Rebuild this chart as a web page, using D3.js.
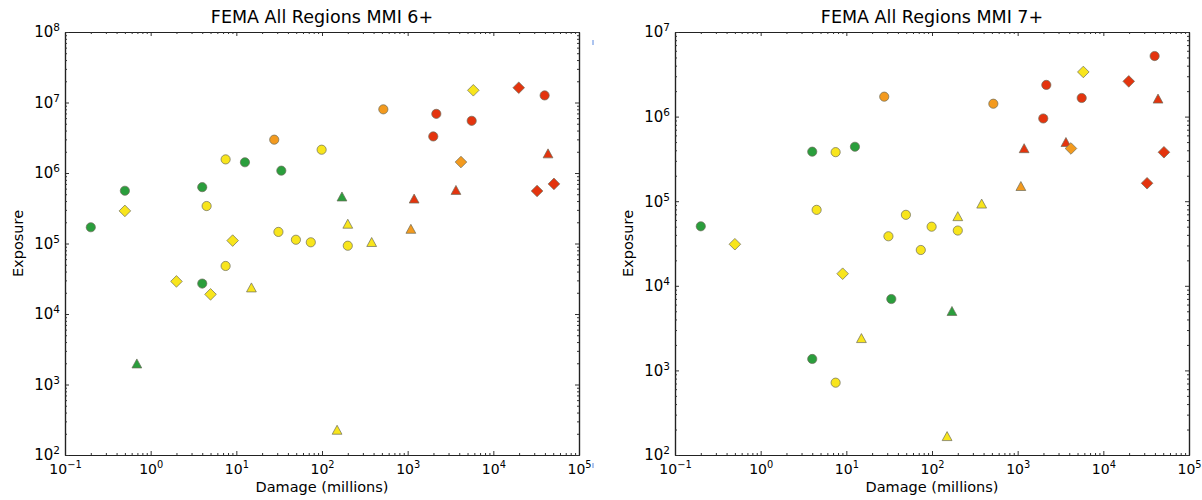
<!DOCTYPE html>
<html>
<head>
<meta charset="utf-8">
<script src="https://cdn.jsdelivr.net/npm/d3@7"></script>
<style>
  body { margin: 0; background: #fff; }
  svg text { font-family: "DejaVu Sans", sans-serif; fill: #000; }
</style>
</head>
<body>
<div id="chart"></div>
<script>
// events: one entry per loss event, same order in every array
var damage = [0.2, 0.5, 4.0, 12.6, 33.5, 4.0, 0.69, 171,
  7.5, 7.5, 99, 4.5, 31, 49.6, 74, 200,
  0.5, 9.06, 2.0, 5.0, 5840,
  15, 200, 380, 150,
  27.7, 520, 4190, 1090,
  2160, 5590, 1990, 39700,
  19800, 51000, 32400,
  43500, 3660, 1190];
var colorClass = ["green", "green", "green", "green", "green", "green", "green", "green",
  "yellow", "yellow", "yellow", "yellow", "yellow", "yellow", "yellow", "yellow",
  "yellow", "yellow", "yellow", "yellow", "yellow",
  "yellow", "yellow", "yellow", "yellow",
  "orange", "orange", "orange", "orange",
  "red", "red", "red", "red",
  "red", "red", "red",
  "red", "red", "red"];
var shape = ["o", "o", "o", "o", "o", "o", "^", "^",
  "o", "o", "o", "o", "o", "o", "o", "o",
  "D", "D", "D", "D", "D",
  "^", "^", "^", "^",
  "o", "o", "D", "^",
  "o", "o", "o", "o",
  "D", "D", "D",
  "^", "^", "^"];
// exposure at MMI 6+ and MMI 7+ (null = not plotted)
var exposure6 = [1.7e5, 5.6e5, 6.3e5, 1.42e6, 1.08e6, 2.7e4, 1970, 4.6e5,
  1.56e6, 4.8e4, 2.14e6, 3.4e5, 1.46e5, 1.13e5, 1.04e5, 9.3e4,
  2.9e5, 1.1e5, 2.9e4, 1.9e4, 1.49e7,
  2.36e4, 1.89e5, 1.04e5, 226,
  2.97e6, 8.0e6, 1.43e6, 1.6e5,
  6.9e6, 5.5e6, 3.3e6, 1.26e7,
  1.62e7, 7.0e5, 5.56e5,
  1.88e6, 5.7e5, 4.3e5];
var exposure7 = [5.05e4, null, 3.85e5, 4.4e5, 6980, 1365, null, 5000,
  3.8e5, 716, 5.0e4, 7.9e4, 3.85e4, 6.9e4, 2.65e4, 4.5e4,
  3.1e4, 1.39e4, null, null, 3.37e6,
  2390, 6.6e4, 9.3e4, 166,
  1.72e6, 1.42e6, 4.2e5, 1.5e5,
  2.37e6, 1.66e6, 9.5e5, 5.2e6,
  2.61e6, 3.79e5, 1.63e5,
  1.62e6, 4.97e5, 4.2e5];

var titles = ["FEMA All Regions MMI 6+", "FEMA All Regions MMI 7+"];
var xDomain = [0.1, 1e5];
var yDomains = [[100, 1e8], [100, 1e7]];

var colors = { green: "#2a9e3c", yellow: "#f8e51c", orange: "#f39a1e", red: "#e4340e" };

var svgWidth = 1202, svgHeight = 500;
var panels = [
  { left: 65, top: 32, width: 514, height: 423, y: exposure6 },
  { left: 675, top: 32, width: 514, height: 423, y: exposure7 }
];

var svg = d3.select("#chart").append("svg")
  .attr("width", svgWidth)
  .attr("height", svgHeight);

function markerPath(s) {
  if (s == "o") return d3.symbol().type(d3.symbolCircle).size(Math.PI * 4.6 * 4.6)();
  if (s == "D") return "M0,-5.8L5.8,0L0,5.8L-5.8,0Z";
  return "M0,-4.8L4.9,4.2L-4.9,4.2Z";
}

// superscript tick labels like 10^-1
function powLabel(sel, size) {
  sel.each(function(d) {
    var t = d3.select(this).text("").attr("font-size", size);
    var e = Math.round(Math.log10(d));
    t.append("tspan").text("10");
    t.append("tspan").attr("dy", -6).attr("font-size", size * 0.7).text(String(e).replace("-", "\u2212"));
  });
}

function minorTicks(domain) {
  var out = [];
  var lo = Math.round(Math.log10(domain[0])), hi = Math.round(Math.log10(domain[1]));
  for (var p = lo; p < hi; p++) {
    for (var m = 2; m <= 9; m++) out.push(m * Math.pow(10, p));
  }
  return out;
}
function majorTicks(domain) {
  var out = [];
  var lo = Math.round(Math.log10(domain[0])), hi = Math.round(Math.log10(domain[1]));
  for (var p = lo; p <= hi; p++) out.push(Math.pow(10, p));
  return out;
}

panels.forEach(function(p, i) {
  var g = svg.append("g").attr("transform", `translate(${p.left}, ${p.top})`);

  var xscale = d3.scaleLog().domain(xDomain).range([0, p.width]);
  var yscale = d3.scaleLog().domain(yDomains[i]).range([p.height, 0]);

  var xMaj = majorTicks(xDomain), xMin = minorTicks(xDomain);
  var yMaj = majorTicks(yDomains[i]), yMin = minorTicks(yDomains[i]);

  // bottom axis with labels
  var bottom = g.append("g").attr("transform", `translate(0, ${p.height})`)
    .call(d3.axisBottom(xscale).tickValues(xMaj).tickSize(-4).tickSizeOuter(0).tickPadding(9));
  bottom.selectAll("text").call(powLabel, 14);
  g.append("g").attr("transform", `translate(0, ${p.height})`)
    .call(d3.axisBottom(xscale).tickValues(xMin).tickSize(-2).tickSizeOuter(0).tickFormat(""));

  // top axis, ticks only
  g.append("g").call(d3.axisTop(xscale).tickValues(xMaj).tickSize(-4).tickSizeOuter(0).tickFormat(""));
  g.append("g").call(d3.axisTop(xscale).tickValues(xMin).tickSize(-2).tickSizeOuter(0).tickFormat(""));

  // left axis with labels
  var left = g.append("g")
    .call(d3.axisLeft(yscale).tickValues(yMaj).tickSize(-4).tickSizeOuter(0).tickPadding(5));
  left.selectAll("text").call(powLabel, 15);
  g.append("g").call(d3.axisLeft(yscale).tickValues(yMin).tickSize(-2).tickSizeOuter(0).tickFormat(""));

  // right axis, ticks only
  g.append("g").attr("transform", `translate(${p.width}, 0)`)
    .call(d3.axisRight(yscale).tickValues(yMaj).tickSize(-4).tickSizeOuter(0).tickFormat(""));
  g.append("g").attr("transform", `translate(${p.width}, 0)`)
    .call(d3.axisRight(yscale).tickValues(yMin).tickSize(-2).tickSizeOuter(0).tickFormat(""));

  g.selectAll(".domain").attr("stroke", "#222").attr("stroke-width", 1.2);
  g.selectAll(".tick line").attr("stroke", "#333");

  // points (triangles first, diamonds on top)
  var order = { "^": 0, "o": 1, "D": 2 };
  var pts = damage.map(function(d, k) {
    return { x: d, y: p.y[k], c: colorClass[k], s: shape[k] };
  }).filter(function(d) { return d.y != null; })
    .sort(function(a, b) { return order[a.s] - order[b.s]; });

  g.append("g").selectAll("path")
    .data(pts)
    .enter()
    .append("path")
    .attr("d", d => markerPath(d.s))
    .attr("transform", d => `translate(${xscale(d.x)}, ${yscale(d.y)})`)
    .attr("fill", d => colors[d.c])
    .attr("stroke", "#6b6b5a")
    .attr("stroke-width", 0.7);

  // titles and axis labels
  g.append("text")
    .attr("x", p.width / 2)
    .attr("y", -9)
    .attr("text-anchor", "middle")
    .attr("font-size", 17.5)
    .text(titles[i]);

  g.append("text")
    .attr("x", p.width / 2)
    .attr("y", p.height + 37)
    .attr("text-anchor", "middle")
    .attr("font-size", 14.5)
    .text("Damage (millions)");

  g.append("text")
    .attr("transform", "rotate(-90)")
    .attr("x", -p.height / 2)
    .attr("y", -42)
    .attr("text-anchor", "middle")
    .attr("font-size", 14.5)
    .text("Exposure");
});

// small blue marks right of the first panel
svg.append("g").selectAll("line")
  .data([40, 463])
  .enter()
  .append("line")
  .attr("x1", 593).attr("x2", 593)
  .attr("y1", d => d).attr("y2", d => d + 5)
  .attr("stroke", "#5a8ae0")
  .attr("stroke-width", 1);
</script>
</body>
</html>
